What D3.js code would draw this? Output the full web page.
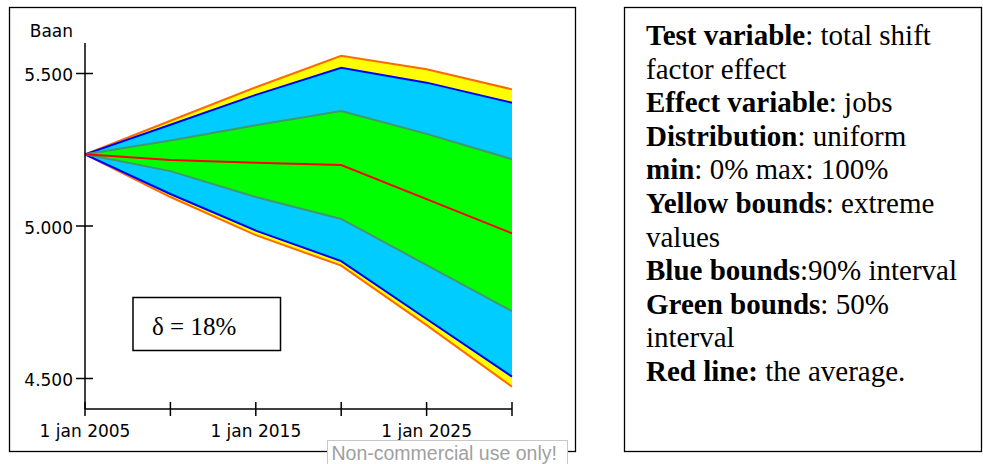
<!DOCTYPE html>
<html><head><meta charset="utf-8">
<script src="https://cdn.jsdelivr.net/npm/d3@7"></script>
<style>html,body{margin:0;padding:0;background:#fff;}svg{display:block;}</style>
</head><body>
<script>
// ---- data ----
const years = [2005, 2010, 2015, 2020, 2025, 2030];
const maxVals  = [5.235, 5.345, 5.455, 5.558, 5.514, 5.448];
const p95Vals  = [5.235, 5.332, 5.430, 5.519, 5.470, 5.404];
const p75Vals  = [5.235, 5.280, 5.330, 5.377, 5.302, 5.219];
const meanVals = [5.235, 5.216, 5.207, 5.200, 5.088, 4.976];
const p25Vals  = [5.235, 5.180, 5.095, 5.023, 4.872, 4.721];
const p5Vals   = [5.235, 5.105, 4.985, 4.885, 4.695, 4.506];
const minVals  = [5.235, 5.095, 4.970, 4.870, 4.675, 4.473];
const xTicks = [2005, 2010, 2015, 2020, 2025, 2030];
const xTickLabels = ["1 jan 2005", "", "1 jan 2015", "", "1 jan 2025", ""];
const yTicks = [4.5, 5.0, 5.5];
const yTickLabels = ["4.500", "5.000", "5.500"];
const yLabel = "Baan";
const deltaText = "δ = 18%";
const infoLines = [
  [["Test variable", true], [": total shift", false]],
  [["factor effect", false]],
  [["Effect variable", true], [": jobs", false]],
  [["Distribution", true], [": uniform", false]],
  [["min", true], [": 0% max: 100%", false]],
  [["Yellow bounds", true], [": extreme", false]],
  [["values", false]],
  [["Blue bounds", true], [":90% interval", false]],
  [["Green bounds", true], [": 50%", false]],
  [["interval", false]],
  [["Red line:", true], [" the average.", false]]
];

const W = 983, H = 464;
const svg = d3.select("body").append("svg").attr("width", W).attr("height", H);

// outer frames
svg.append("rect").attr("x", 9.5).attr("y", 7.5).attr("width", 566).attr("height", 444)
  .attr("fill", "none").attr("stroke", "#000").attr("stroke-width", 1.3);
svg.append("rect").attr("x", 624.5).attr("y", 7.5).attr("width", 357).attr("height", 444)
  .attr("fill", "none").attr("stroke", "#000").attr("stroke-width", 1.3);

const x = d3.scaleLinear().domain([2005, 2030]).range([85, 512]);
const y = d3.scaleLinear().domain([4.4, 5.6]).range([409, 43]);

const rows = years.map((yr, i) => ({yr, max: maxVals[i], p95: p95Vals[i], p75: p75Vals[i],
  mean: meanVals[i], p25: p25Vals[i], p5: p5Vals[i], min: minVals[i]}));

const g = svg.append("g");
const area = (lo, hi) => d3.area().x(d => x(d.yr)).y0(d => y(d[lo])).y1(d => y(d[hi]));
const line = k => d3.line().x(d => x(d.yr)).y(d => y(d[k]));

g.append("path").datum(rows).attr("d", area("min", "max")).attr("fill", "#ffff00");
g.append("path").datum(rows).attr("d", area("p5", "p95")).attr("fill", "#00ccff");
g.append("path").datum(rows).attr("d", area("p25", "p75")).attr("fill", "#00ff00");

const lines = [["max", "#ff6a00"], ["min", "#ff6a00"], ["p95", "#0000ff"], ["p5", "#0000ff"],
  ["p75", "#3f9a6c"], ["p25", "#3f9a6c"], ["mean", "#ff0000"]];
lines.forEach(([k, c]) => {
  g.append("path").datum(rows).attr("d", line(k)).attr("fill", "none")
    .attr("stroke", c).attr("stroke-width", 2);
});

// axes
const axisFont = "'DejaVu Sans', sans-serif";
svg.append("line").attr("x1", 85).attr("x2", 85).attr("y1", 43).attr("y2", 409)
  .attr("stroke", "#000").attr("stroke-width", 1.5);
svg.append("line").attr("x1", 85).attr("x2", 512).attr("y1", y(4.4)).attr("y2", y(4.4))
  .attr("stroke", "#000").attr("stroke-width", 1.5);

svg.selectAll(".xt").data(xTicks).enter().append("line")
  .attr("x1", d => x(d)).attr("x2", d => x(d)).attr("y1", y(4.4) - 7).attr("y2", y(4.4) + 7)
  .attr("stroke", "#000").attr("stroke-width", 1.5);
svg.selectAll(".xl").data(xTicks).enter().append("text")
  .attr("x", d => x(d)).attr("y", 436.5).attr("text-anchor", "middle")
  .attr("font-family", axisFont).attr("font-size", 17).attr("fill", "#000")
  .text((d, i) => xTickLabels[i]);

svg.selectAll(".yt").data(yTicks).enter().append("line")
  .attr("x1", 76).attr("x2", 93).attr("y1", d => y(d)).attr("y2", d => y(d))
  .attr("stroke", "#000").attr("stroke-width", 1.5);
svg.selectAll(".yl").data(yTicks).enter().append("text")
  .attr("x", 73).attr("y", d => y(d) + 7.5).attr("text-anchor", "end")
  .attr("font-family", axisFont).attr("font-size", 17).attr("fill", "#000")
  .text((d, i) => yTickLabels[i]);

svg.append("text").attr("x", 73).attr("y", 37).attr("text-anchor", "end")
  .attr("font-family", axisFont).attr("font-size", 17).attr("fill", "#000").text(yLabel);

// delta box
svg.append("rect").attr("x", 133).attr("y", 297.5).attr("width", 147.5).attr("height", 53)
  .attr("fill", "#fff").attr("stroke", "#000").attr("stroke-width", 1.5);
svg.append("text").attr("x", 152).attr("y", 335)
  .attr("font-family", "'Liberation Serif', 'Times New Roman', serif").attr("font-size", 25)
  .attr("fill", "#000").text(deltaText);

// info text
const info = svg.append("text").attr("font-family", "'Liberation Serif', 'Times New Roman', serif")
  .attr("font-size", 29).attr("fill", "#000");
infoLines.forEach((parts, i) => {
  parts.forEach(([t, b], j) => {
    const ts = info.append("tspan").text(t).attr("font-weight", b ? "bold" : "normal")
      .style("white-space", "pre");
    if (j === 0) ts.attr("x", 646).attr("y", 45 + 33.6 * i);
  });
});
info.attr("xml:space", "preserve");

// watermark
svg.append("rect").attr("x", 327.5).attr("y", 440.5).attr("width", 240).attr("height", 30)
  .attr("fill", "#fff").attr("stroke", "#c8c8c8").attr("stroke-width", 1);
svg.append("text").attr("x", 331.5).attr("y", 459.5)
  .attr("font-family", "'Liberation Sans', Arial, sans-serif").attr("font-size", 19.5)
  .attr("fill", "#a0a0a0").text("Non-commercial use only!");
</script>
</body></html>
